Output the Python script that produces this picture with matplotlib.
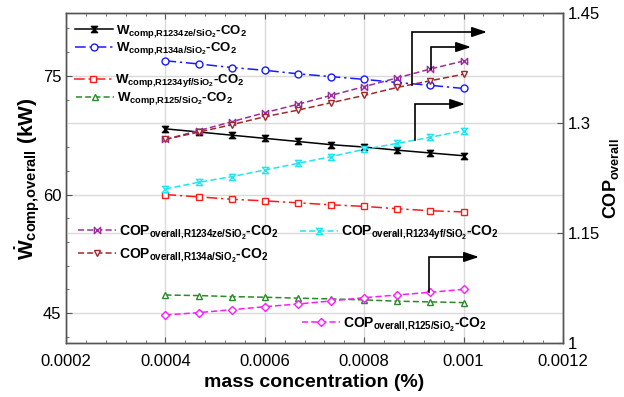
import matplotlib
matplotlib.use('Agg')
import matplotlib.pyplot as plt
import numpy as np
from matplotlib.path import Path
from matplotlib.lines import Line2D
from matplotlib.ticker import MultipleLocator, FuncFormatter

plt.rcParams['font.family'] = ['Liberation Sans', 'DejaVu Sans']
plt.rcParams['mathtext.fontset'] = 'custom'
plt.rcParams['mathtext.rm'] = 'Liberation Sans:bold'
plt.rcParams['mathtext.it'] = 'Liberation Sans:bold'
plt.rcParams['mathtext.bf'] = 'Liberation Sans:bold'

# mass concentration (%)
conc = [0.0004, 0.000467, 0.000533, 0.0006, 0.000667, 0.000733, 0.0008, 0.000867, 0.000933, 0.001]

# compressor power (kW), left axis
w_r1234ze = [68.3, 67.9, 67.5, 67.1, 66.7, 66.3, 66.0, 65.6, 65.25, 64.9]
w_r134a = [76.9, 76.5, 76.05, 75.7, 75.25, 74.9, 74.55, 74.15, 73.8, 73.4]
w_r1234yf = [60.0, 59.7, 59.4, 59.2, 58.95, 58.7, 58.5, 58.2, 57.95, 57.8]
w_r125 = [47.3, 47.23, 47.1, 47.02, 46.9, 46.81, 46.68, 46.52, 46.43, 46.34]

# overall COP, right axis
cop_r1234ze = [1.278, 1.290, 1.302, 1.3145, 1.326, 1.338, 1.350, 1.362, 1.374, 1.385]
cop_r134a = [1.278, 1.288, 1.298, 1.309, 1.318, 1.328, 1.338, 1.349, 1.358, 1.367]
cop_r1234yf = [1.2104, 1.2196, 1.2272, 1.2363, 1.2454, 1.2545, 1.2645, 1.2727, 1.2809, 1.290]
cop_r125 = [1.0386, 1.0418, 1.0458, 1.0499, 1.0536, 1.0577, 1.0622, 1.0659, 1.0695, 1.0736]

xticks = [0.0002, 0.0004, 0.0006, 0.0008, 0.001, 0.0012]
yticks_left = [45, 60, 75]
yticks_right = [1, 1.15, 1.3, 1.45]

# custom markers
hourglass = Path([(-1, 1), (1, 1), (-1, -1), (1, -1), (-1, 1)],
                 [Path.MOVETO, Path.LINETO, Path.LINETO, Path.LINETO, Path.CLOSEPOLY])
bowtie = Path([(-1, 1), (-1, -1), (1, 1), (1, -1), (-1, 1)],
              [Path.MOVETO, Path.LINETO, Path.LINETO, Path.LINETO, Path.CLOSEPOLY])

dashdot = (0, (7, 2.5, 1.5, 2.5))
dashed = (0, (4, 2))

fig = plt.figure(figsize=(6.24, 3.97), dpi=100)
ax = fig.add_axes([0.1058, 0.1353, 0.7964, 0.8312])
ax2 = ax.twinx()

lw = 1.1
ms = 4.5

l1, = ax.plot(conc, w_r1234ze, color='black', lw=lw, marker=hourglass, ms=ms,
              mfc='black', mec='black', label=r'$W_{comp{,}R1234ze/SiO_2}$-CO$_2$')
l2, = ax.plot(conc, w_r134a, color='#1a1aff', lw=lw, ls=dashdot, marker='o', ms=ms + 0.5,
              mfc='white', mec='#1a1aff', label=r'$W_{comp{,}R134a/SiO_2}$-CO$_2$')
l3, = ax.plot(conc, w_r1234yf, color='#ff1a1a', lw=lw, ls=dashdot, marker='s', ms=ms + 0.5,
              mfc='white', mec='#ff1a1a', label=r'$W_{comp{,}R1234yf/SiO_2}$-CO$_2$')
l4, = ax.plot(conc, w_r125, color='#2a8a2a', lw=lw, ls=dashed, marker='^', ms=ms + 0.5,
              mfc='white', mec='#2a8a2a', label=r'$W_{comp{,}R125/SiO_2}$-CO$_2$')

c1, = ax2.plot(conc, cop_r1234ze, color='#9b2d9b', lw=lw, ls=dashed, marker=bowtie, ms=ms,
               mfc='white', mec='#9b2d9b', label=r'$COP_{overall{,}R1234ze/SiO_2}$-CO$_2$')
c2, = ax2.plot(conc, cop_r134a, color='#a0282a', lw=lw, ls=dashed, marker='v', ms=ms + 0.5,
               mfc='white', mec='#a0282a', label=r'$COP_{overall{,}R134a/SiO_2}$-CO$_2$')
c3, = ax2.plot(conc, cop_r1234yf, color='#1ee6f0', lw=lw, ls=dashed, marker=hourglass, ms=ms,
               mfc='white', mec='#1ee6f0', label=r'$COP_{overall{,}R1234yf/SiO_2}$-CO$_2$')
c4, = ax2.plot(conc, cop_r125, color='#ff1aff', lw=lw, ls=dashed, marker='D', ms=ms - 0.5,
               mfc='white', mec='#ff1aff', label=r'$COP_{overall{,}R125/SiO_2}$-CO$_2$')

ax.set_xlim(0.0002, 0.0012)
ax.set_ylim(41.2, 82.9)
ax2.set_ylim(1, 1.45)
ax.set_xticks(xticks)
ax.xaxis.set_minor_locator(MultipleLocator(0.00004))
ax.xaxis.set_major_formatter(FuncFormatter(lambda v, p: '%g' % v))
ax.set_yticks(yticks_left)
ax.yaxis.set_minor_locator(MultipleLocator(3))
ax2.set_yticks(yticks_right)
ax2.yaxis.set_major_formatter(FuncFormatter(lambda v, p: '%g' % v))

ax.grid(True, which='major', color='#dadada', lw=1)
ax2.grid(True, which='major', axis='y', color='#dadada', lw=1)
ax.set_axisbelow(True)
ax2.set_axisbelow(True)

ax.tick_params(which='both', direction='in', top=True, labelsize=12, color='#555555')
ax.tick_params(which='major', length=4)
ax.tick_params(which='minor', length=2.5)
ax.tick_params(axis='x', which='major', pad=8)
ax2.tick_params(which='both', direction='in', labelsize=12, length=4, color='#555555')
for a in (ax, ax2):
    for s in a.spines.values():
        s.set_color('#555555')
        s.set_linewidth(1)

ax.set_xlabel('mass concentration (%)', fontsize=14, fontweight='bold', labelpad=3)
ax.set_ylabel(r'$\dot{W}_{comp{,}overall}$ (kW)', fontsize=15, fontweight='bold', labelpad=0)
ax2.set_ylabel(r'$COP_{overall}$', fontsize=13, fontweight='bold', labelpad=1)

# legend entries, placed individually
entries = [
    (l1, 0.1202, 0.921, 9.5), (l2, 0.1202, 0.8766, 9.5), (l3, 0.1186, 0.796, 9.5),
    (l4, 0.1218, 0.7507, 9.5), (c1, 0.125, 0.4157, 10), (c2, 0.125, 0.3577, 10),
    (c3, 0.4808, 0.413, 10), (c4, 0.484, 0.184, 10),
]
for h, x, y, fs in entries:
    fig.legend([h], [h.get_label()], loc='center left', bbox_to_anchor=(x, y),
               frameon=False, borderpad=0, borderaxespad=0, handlelength=38 / (fs * 1.389),
               handletextpad=0.2, prop={'size': fs, 'weight': 'bold'})

# arrows pointing to the right axis (x, y start, y turn, x end) in COP units
arrows = [
    (0.000896, 1.352, 1.4245, 0.001047),
    (0.000902, 1.277, 1.3263, 0.001003),
    (0.000934, 1.374, 1.404, 0.001015),
    (0.00093, 1.070, 1.1177, 0.001031),
]
for x0, y0, y1, x1 in arrows:
    ax2.plot([x0, x0, x1 - 0.00001], [y0, y1, y1], color='black', lw=1.2, solid_joinstyle='miter')
    ax2.annotate('', xy=(x1, y1), xytext=(x1 - 0.00003, y1),
                 arrowprops=dict(arrowstyle='-|>,head_length=0.9,head_width=0.3',
                                 color='black', lw=1.2, shrinkA=0, shrinkB=0))

fig.savefig('out.png', dpi=100)
